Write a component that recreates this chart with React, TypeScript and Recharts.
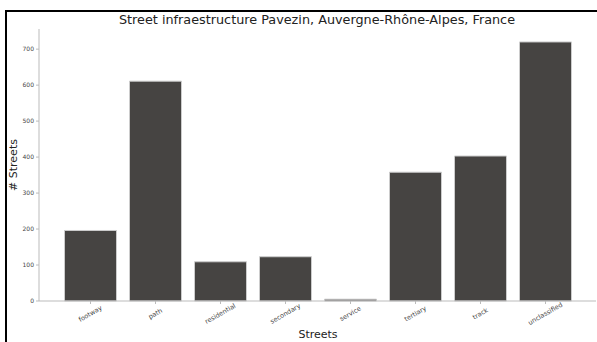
import { BarChart, Bar, XAxis, YAxis } from "recharts";

const streetTypes = [
  "footway",
  "path",
  "residential",
  "secondary",
  "service",
  "tertiary",
  "track",
  "unclassified",
];
const streetCounts = [196, 611, 109, 123, 5, 358, 403, 720];
const yTicks = [0, 100, 200, 300, 400, 500, 600, 700];

const data = streetTypes.map((name, i) => ({ name, count: streetCounts[i] }));

const FONT = "'DejaVu Sans', sans-serif";

const XTick = (props: any) => {
  const { x, y, payload } = props;
  return (
    <text
      x={x}
      y={y + 8}
      transform={`rotate(-30 ${x} ${y + 8})`}
      textAnchor="middle"
      dominantBaseline="middle"
      fontSize={6.5}
      fill="#444"
      fontFamily={FONT}
    >
      {payload.value}
    </text>
  );
};

const App = () => {
  return (
    <div style={{ position: "absolute", left: 0, top: 0, width: 597, height: 342, background: "#fff", overflow: "hidden" }}>
      <div
        style={{
          position: "absolute",
          left: 5,
          top: 10,
          width: 600,
          height: 340,
          borderLeft: "2px solid #000",
          borderTop: "2px solid #000",
        }}
      />
      <BarChart
        width={597}
        height={342}
        data={data}
        margin={{ top: 29, right: 1, left: 9, bottom: 11 }}
        barCategoryGap="10%"
      >
        <XAxis
          dataKey="name"
          height={30}
          padding={{ left: 19, right: 18 }}
          stroke="#bbb"
          tickSize={3}
          tick={<XTick />}
          interval={0}
        />
        <YAxis
          width={30}
          domain={[0, 756]}
          ticks={yTicks}
          stroke="#bbb"
          tickSize={3}
          tick={{ fontSize: 6, fill: "#444", fontFamily: FONT }}
        />
        <Bar dataKey="count" fill="#464442" stroke="#ccc" strokeWidth={1} isAnimationActive={false} />
        <text x={317} y={20} textAnchor="middle" dominantBaseline="middle" fontSize={12.8} fill="#222" fontFamily={FONT}>
          Street infraestructure Pavezin, Auvergne-Rhône-Alpes, France
        </text>
        <text x={318} y={335} textAnchor="middle" dominantBaseline="middle" fontSize={11} fill="#222" fontFamily={FONT}>
          Streets
        </text>
        <text
          x={14}
          y={165}
          transform="rotate(-90 14 165)"
          textAnchor="middle"
          dominantBaseline="middle"
          fontSize={11}
          fill="#222"
          fontFamily={FONT}
        >
          # Streets
        </text>
      </BarChart>
    </div>
  );
};

export default App;
